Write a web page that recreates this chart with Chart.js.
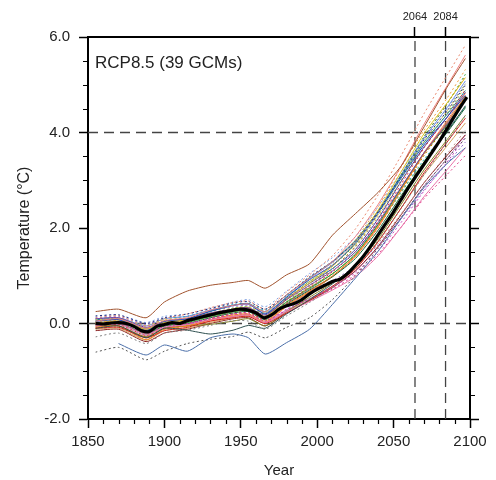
<!DOCTYPE html>
<html lang="en">
<head>
<meta charset="UTF-8" />
<title>RCP8.5 (39 GCMs)</title>
<script src="https://cdn.jsdelivr.net/npm/chart.js"></script>
<style>
  body { margin: 0; background: #fff; }
  #wrap { width: 496px; height: 480px; }
</style>
</head>
<body>
<div id="wrap"><canvas id="tempChart" width="496" height="480"></canvas></div>
<script>
// years where each model series is sampled
const modelYears = [1855, 1870, 1888, 1900, 1915, 1930, 1945, 1955, 1966, 1980, 1995, 2010, 2025, 2040, 2055, 2070, 2085, 2097];

// 39 GCM series (temperature anomaly, deg C)
const models = [
  [0.25, 0.3, 0.12, 0.45, 0.68, 0.8, 0.86, 0.9, 0.74, 1.02, 1.25, 1.85, 2.3, 2.75, 3.3, 4.12, 4.95, 5.55],
  [0.12, 0.16, -0.05, 0.1, 0.2, 0.33, 0.44, 0.47, 0.3, 0.66, 1.02, 1.42, 1.98, 2.7, 3.52, 4.4, 5.2, 5.83],
  [0.05, 0.1, -0.1, 0.06, 0.12, 0.28, 0.38, 0.41, 0.25, 0.6, 0.95, 1.3, 1.82, 2.5, 3.3, 4.18, 4.98, 5.62],
  [null, -0.42, -0.66, -0.45, -0.58, -0.3, -0.22, -0.3, -0.64, -0.4, -0.12, 0.4, 0.95, 1.52, 2.2, 2.85, 3.35, 3.68],
  [-0.6, -0.5, -0.76, -0.58, -0.42, -0.33, -0.27, -0.18, -0.3, -0.08, 0.12, 0.5, 1.0, 1.58, 2.22, 2.88, 3.45, 3.88],
  [-0.28, -0.2, -0.42, -0.2, -0.14, -0.04, 0.06, 0.05, -0.12, 0.16, 0.44, 0.76, 1.18, 1.74, 2.42, 3.12, 3.8, 4.36],
  [-0.1, -0.05, -0.3, -0.1, -0.14, -0.22, -0.14, -0.04, -0.1, 0.2, 0.5, 0.83, 1.22, 1.86, 2.62, 3.38, 4.02, 4.56],
  [0.05, 0.08, -0.15, 0.05, 0.1, 0.26, 0.38, 0.41, 0.2, 0.55, 0.92, 1.22, 1.68, 2.32, 3.05, 3.75, 4.32, 4.78],
  [0.16, 0.18, 0.0, 0.12, 0.2, 0.31, 0.43, 0.46, 0.3, 0.6, 0.98, 1.3, 1.72, 2.35, 3.1, 3.85, 4.45, 5.0],
  [0.1, 0.12, -0.08, 0.05, 0.1, 0.22, 0.3, 0.33, 0.18, 0.5, 0.8, 1.1, 1.5, 2.12, 2.86, 3.58, 4.18, 4.68],
  [0.0, 0.02, -0.2, -0.05, 0.0, 0.1, 0.2, 0.22, 0.05, 0.3, 0.52, 0.76, 1.06, 1.52, 2.12, 2.78, 3.38, 3.9],
  [-0.05, 0.0, -0.22, -0.08, -0.02, 0.08, 0.15, 0.18, 0.02, 0.25, 0.46, 0.7, 0.98, 1.42, 2.02, 2.66, 3.22, 3.68],
  [-0.1, -0.08, -0.3, -0.15, -0.08, 0.05, 0.12, 0.15, 0.0, 0.22, 0.48, 0.78, 1.14, 1.72, 2.42, 3.16, 3.8, 4.3],
  [-0.05, -0.02, -0.25, -0.1, 0.0, 0.1, 0.2, 0.23, 0.08, 0.42, 0.75, 1.08, 1.5, 2.15, 2.92, 3.68, 4.32, 4.9],
  [-0.08, -0.05, -0.34, -0.12, -0.05, 0.08, 0.18, 0.2, 0.05, 0.38, 0.68, 1.0, 1.42, 2.05, 2.8, 3.56, 4.2, 4.76],
  [0.02, 0.05, -0.15, 0.0, 0.05, 0.18, 0.3, 0.32, 0.18, 0.52, 0.88, 1.25, 1.75, 2.45, 3.28, 4.05, 4.72, 5.32],
  [0.0, 0.05, -0.12, 0.02, 0.08, 0.2, 0.3, 0.33, 0.15, 0.5, 0.85, 1.2, 1.7, 2.38, 3.18, 3.98, 4.62, 5.15],
  [0.08, 0.1, -0.05, 0.08, 0.12, 0.22, 0.32, 0.35, 0.22, 0.55, 0.9, 1.22, 1.65, 2.28, 3.05, 3.82, 4.45, 5.02],
  [-0.02, 0.0, -0.2, -0.05, 0.02, 0.15, 0.25, 0.28, 0.12, 0.45, 0.74, 1.04, 1.45, 2.08, 2.84, 3.56, 4.16, 4.68],
  [0.05, 0.08, -0.1, 0.05, 0.1, 0.2, 0.32, 0.35, 0.2, 0.54, 0.88, 1.2, 1.66, 2.32, 3.12, 3.92, 4.6, 5.22],
  [0.0, 0.02, -0.22, -0.05, 0.0, 0.12, 0.22, 0.25, 0.08, 0.4, 0.7, 0.98, 1.36, 1.96, 2.68, 3.38, 4.0, 4.52],
  [0.08, 0.1, -0.1, 0.05, 0.1, 0.25, 0.38, 0.42, 0.25, 0.6, 0.96, 1.3, 1.74, 2.36, 3.08, 3.8, 4.38, 4.88],
  [0.1, 0.12, -0.05, 0.1, 0.15, 0.28, 0.4, 0.42, 0.28, 0.58, 0.88, 1.15, 1.5, 2.08, 2.76, 3.44, 4.04, 4.54],
  [-0.05, -0.05, -0.28, -0.1, -0.05, -0.02, 0.05, 0.1, -0.05, 0.25, 0.55, 0.85, 1.2, 1.78, 2.5, 3.22, 3.85, 4.36],
  [0.02, 0.05, -0.18, 0.0, 0.05, 0.15, 0.25, 0.28, 0.12, 0.46, 0.8, 1.14, 1.6, 2.25, 3.0, 3.75, 4.4, 4.96],
  [-0.12, -0.1, -0.35, -0.15, -0.1, 0.02, 0.12, 0.15, 0.0, 0.25, 0.5, 0.78, 1.15, 1.72, 2.42, 3.12, 3.72, 4.2],
  [0.05, 0.05, -0.15, 0.0, 0.05, 0.15, 0.25, 0.28, 0.12, 0.38, 0.62, 0.85, 1.18, 1.68, 2.3, 2.95, 3.55, 4.05],
  [0.12, 0.15, -0.02, 0.1, 0.15, 0.25, 0.35, 0.38, 0.22, 0.45, 0.68, 0.9, 1.2, 1.65, 2.2, 2.8, 3.35, 3.8],
  [-0.02, 0.0, -0.2, -0.05, 0.0, 0.1, 0.18, 0.2, 0.05, 0.28, 0.5, 0.72, 1.02, 1.46, 2.02, 2.62, 3.12, 3.52],
  [-0.15, -0.12, -0.38, -0.2, -0.12, 0.0, 0.1, 0.12, -0.05, 0.22, 0.48, 0.75, 1.1, 1.62, 2.28, 2.95, 3.52, 3.95],
  [0.1, 0.12, -0.05, 0.1, 0.15, 0.28, 0.38, 0.4, 0.22, 0.56, 0.94, 1.28, 1.72, 2.36, 3.12, 3.88, 4.52, 5.08],
  [0.15, 0.18, 0.02, 0.15, 0.2, 0.32, 0.45, 0.5, 0.35, 0.68, 1.05, 1.38, 1.82, 2.45, 3.18, 3.9, 4.5, 5.02],
  [-0.08, -0.05, -0.28, -0.1, -0.05, 0.05, 0.15, 0.18, 0.02, 0.36, 0.66, 0.98, 1.4, 2.02, 2.8, 3.58, 4.25, 4.82],
  [0.0, 0.02, -0.2, -0.05, 0.0, 0.12, 0.22, 0.25, 0.1, 0.42, 0.78, 1.14, 1.62, 2.3, 3.1, 3.9, 4.6, 5.18],
  [0.05, 0.08, -0.12, 0.02, 0.08, 0.2, 0.3, 0.32, 0.15, 0.52, 0.84, 1.15, 1.55, 2.2, 2.98, 3.7, 4.32, 4.84],
  [0.0, 0.02, -0.15, 0.0, 0.05, 0.15, 0.25, 0.28, 0.12, 0.46, 0.76, 1.05, 1.44, 2.04, 2.74, 3.42, 4.02, 4.54],
  [-0.05, -0.02, -0.25, -0.08, -0.02, 0.08, 0.15, 0.18, 0.02, 0.28, 0.52, 0.78, 1.1, 1.6, 2.22, 2.88, 3.45, 3.95],
  [0.02, 0.05, -0.15, 0.0, 0.05, 0.15, 0.25, 0.28, 0.1, 0.42, 0.72, 1.04, 1.45, 2.08, 2.84, 3.58, 4.22, 4.76],
  [-0.1, -0.08, -0.3, -0.12, -0.05, 0.05, 0.15, 0.18, 0.02, 0.36, 0.66, 0.98, 1.4, 2.02, 2.78, 3.52, 4.16, 4.72]
];

const modelColors = [
  '#a0522d', '#ea8a70', '#f08080', '#4a6ea8', '#555555', '#808080', '#2f5050', '#2050c0',
  '#283080', '#7a40a0', '#c040c0', '#e870a8', '#d02020', '#e03838', '#f08020', '#f0a040',
  '#e0c020', '#d8d040', '#2a9a2a', '#40b040', '#1a6a3a', '#208a8a', '#30b0c8', '#808020',
  '#a0a040', '#d2a060', '#bc8f8f', '#9a70d0', '#e0408a', '#8a2020', '#6a8ae0', '#80a0e0',
  '#ff7f50', '#c06030', '#4b3a9a', '#90c040', '#c080c0', '#8a8a8a', '#d07000'
];
// 1 = dotted line
const modelDotted = [0, 1, 0, 0, 1, 1, 0, 0, 1, 0, 1, 0, 0, 1, 0, 1, 0, 1, 0, 1, 0, 0, 1, 0, 1, 0, 1, 1, 1, 0, 0, 1, 0, 1, 0, 1, 0, 0, 1];

// multi-model mean
const meanYears = [1855, 1860, 1865, 1870, 1875, 1880, 1885, 1890, 1895, 1900, 1905, 1910, 1915, 1920, 1925, 1930, 1935, 1940, 1945, 1950,
  1955, 1960, 1965, 1970, 1975, 1980, 1985, 1990, 1995, 2000, 2005, 2010, 2015, 2020, 2025, 2030, 2035, 2040, 2045, 2050,
  2055, 2060, 2065, 2070, 2075, 2080, 2085, 2090, 2095, 2098];
const meanTemp = [0.0, -0.01, 0.01, 0.02, 0.0, -0.06, -0.15, -0.17, -0.06, -0.02, 0.02, 0.0, 0.06, 0.1, 0.14, 0.18, 0.22, 0.25, 0.28, 0.3,
  0.28, 0.22, 0.12, 0.18, 0.3, 0.37, 0.42, 0.5, 0.62, 0.72, 0.8, 0.88, 0.93, 1.05, 1.22, 1.4, 1.62, 1.86, 2.1, 2.34,
  2.6, 2.86, 3.1, 3.34, 3.58, 3.82, 4.08, 4.35, 4.6, 4.74];

const markYears = [2064, 2084];
const refTemps = [0, 4];
const xTicks = [1850, 1900, 1950, 2000, 2050, 2100];
const yTicks = [-2, 0, 2, 4, 6];

const FONT = "'Liberation Sans', Arial, Helvetica, sans-serif";
const INK = '#222';

const datasets = [];
datasets.push({
  data: meanYears.map((x, i) => ({ x: x, y: meanTemp[i] })),
  borderColor: '#000', borderWidth: 3.2, pointRadius: 0, tension: 0.2
});
models.forEach((row, k) => {
  datasets.push({
    data: modelYears.map((x, i) => ({ x: x, y: row[i] })),
    borderColor: modelColors[k],
    borderWidth: 1,
    borderDash: modelDotted[k] ? [2, 2.5] : [],
    pointRadius: 0,
    tension: 0.2
  });
});
refTemps.forEach(t => {
  datasets.push({
    data: [{ x: 1850, y: t }, { x: 2100, y: t }],
    borderColor: '#444', borderWidth: 1.3, borderDash: [10, 6], pointRadius: 0
  });
});
markYears.forEach(yr => {
  datasets.push({
    data: [{ x: yr, y: -2 }, { x: yr, y: 6 }],
    borderColor: '#444', borderWidth: 1.3, borderDash: [10, 6], pointRadius: 0
  });
});

// short unlabelled ticks between the major ones
const minorTicks = {
  id: 'minorTicks',
  afterDraw(chart) {
    const { ctx, chartArea: a, scales } = chart;
    ctx.save();
    ctx.strokeStyle = '#000';
    ctx.lineWidth = 1.2;
    ctx.beginPath();
    for (let v = 1860; v < 2100; v += 10) {
      if (v % 50 === 0) continue;
      const px = Math.round(scales.x.getPixelForValue(v)) + 0.5;
      ctx.moveTo(px, a.bottom);
      ctx.lineTo(px, a.bottom + 5);
    }
    for (let v = -1.5; v < 6; v += 0.5) {
      if (v % 2 === 0) continue;
      const py = Math.round(scales.y.getPixelForValue(v)) + 0.5;
      ctx.moveTo(a.left - 5, py);
      ctx.lineTo(a.left, py);
      ctx.moveTo(a.right, py);
      ctx.lineTo(a.right + 5, py);
    }
    ctx.stroke();
    ctx.fillStyle = INK;
    ctx.font = '17px ' + FONT;
    ctx.textBaseline = 'alphabetic';
    ctx.fillText('RCP8.5 (39 GCMs)', a.left + 7, a.top + 31);
    ctx.restore();
  }
};

const tickGrid = len => ({ drawOnChartArea: false, drawTicks: true, tickLength: len, tickColor: '#000', tickWidth: 1.5 });
const frame = { display: true, color: '#000', width: 2 };

new Chart(document.getElementById('tempChart'), {
  type: 'line',
  data: { datasets: datasets },
  options: {
    responsive: false,
    animation: false,
    events: [],
    layout: { padding: 0 },
    plugins: { legend: { display: false }, tooltip: { enabled: false } },
    scales: {
      x: {
        type: 'linear', position: 'bottom', min: 1850, max: 2100,
        afterBuildTicks: s => { s.ticks = xTicks.map(v => ({ value: v })); },
        ticks: { font: { family: FONT, size: 15 }, color: INK, padding: 5, maxRotation: 0, callback: v => String(v) },
        grid: tickGrid(9),
        border: frame,
        title: { display: true, text: 'Year', font: { family: FONT, size: 15 }, color: INK, padding: 0 },
        afterFit: s => { s.height = 61; }
      },
      xTop: {
        type: 'linear', position: 'top', min: 1850, max: 2100,
        afterBuildTicks: s => { s.ticks = markYears.map(v => ({ value: v })); },
        ticks: { font: { family: FONT, size: 11 }, color: INK, padding: 3, maxRotation: 0, autoSkip: false, callback: v => String(v) },
        grid: tickGrid(10),
        border: frame,
        afterFit: s => { s.height = 37; }
      },
      y: {
        type: 'linear', position: 'left', min: -2, max: 6,
        afterBuildTicks: s => { s.ticks = yTicks.map(v => ({ value: v })); },
        ticks: { font: { family: FONT, size: 15 }, color: INK, padding: 9, callback: v => v.toFixed(1) },
        grid: tickGrid(9),
        border: frame,
        title: { display: true, text: 'Temperature (°C)', font: { family: FONT, size: 16 }, color: INK, padding: { top: 15 } },
        afterFit: s => { s.width = 88; }
      },
      yRight: {
        type: 'linear', position: 'right', min: -2, max: 6,
        afterBuildTicks: s => { s.ticks = yTicks.map(v => ({ value: v })); },
        ticks: { display: false },
        grid: tickGrid(9),
        border: frame,
        afterFit: s => { s.width = 26; }
      }
    }
  },
  plugins: [minorTicks]
});
</script>
</body>
</html>
